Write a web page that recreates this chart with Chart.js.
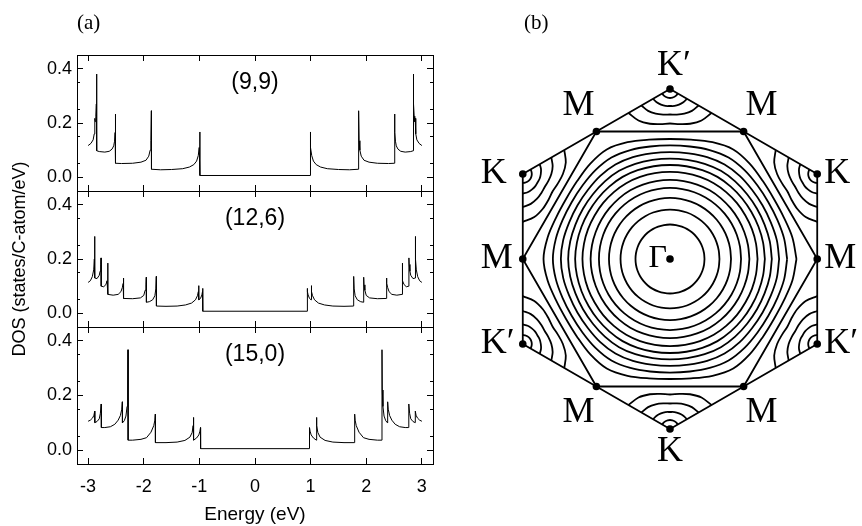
<!DOCTYPE html>
<html>
<head>
<meta charset="utf-8">
<script src="https://cdn.jsdelivr.net/npm/chart.js@4.4.1/dist/chart.umd.min.js"></script>
<style>
  html, body { margin: 0; padding: 0; background: #fff; }
  #wrap { position: relative; width: 862px; height: 526px; overflow: hidden; }
  #wrap canvas { position: absolute; left: 0; top: 0; }
  .tag { position: absolute; font-family: "Liberation Serif", "Times New Roman", serif; font-size: 21px; line-height: 24px; color: #000; }
</style>
</head>
<body>
<div id="wrap">
  <canvas id="dos99" width="862" height="526"></canvas>
  <canvas id="dos126" width="862" height="526"></canvas>
  <canvas id="dos150" width="862" height="526"></canvas>
  <canvas id="bz" width="862" height="526"></canvas>
  <div class="tag" style="left:77px;top:10px">(a)</div>
  <div class="tag" style="left:524px;top:10px">(b)</div>
</div>
<script>
// ---- (a) DOS, negative-energy half (curve is symmetric about E = 0)
const energy99 = [-3.0, -2.95, -2.91, -2.89, -2.88, -2.872, -2.862, -2.852, -2.847, -2.845,
  -2.80, -2.70, -2.62, -2.57, -2.54, -2.525, -2.515, -2.509, -2.507,
  -2.40, -2.20, -2.05, -1.96, -1.91, -1.885, -1.872, -1.863, -1.861,
  -1.70, -1.50, -1.30, -1.18, -1.10, -1.05, -1.02, -1.003, -0.992, -0.990, 0];
const dos99 = [0.117, 0.125, 0.138, 0.16, 0.217, 0.205, 0.225, 0.27, 0.38, 0.098,
  0.095, 0.093, 0.096, 0.104, 0.116, 0.133, 0.165, 0.233, 0.052,
  0.051, 0.052, 0.056, 0.063, 0.078, 0.1, 0.135, 0.245, 0.03,
  0.028, 0.029, 0.032, 0.038, 0.047, 0.06, 0.08, 0.11, 0.167, 0.007, 0.007];

const energy126 = [-3.0, -2.96, -2.925, -2.9, -2.888, -2.882, -2.880,
  -2.84, -2.80, -2.785, -2.772, -2.767, -2.765,
  -2.72, -2.68, -2.66, -2.649, -2.645, -2.643,
  -2.55, -2.46, -2.41, -2.385, -2.37, -2.364, -2.362,
  -2.2, -2.06, -2.0, -1.975, -1.96, -1.954, -1.952,
  -1.9, -1.84, -1.8, -1.783, -1.774, -1.772,
  -1.6, -1.4, -1.25, -1.14, -1.07, -1.035, -1.018, -1.013, -1.008,
  -0.98, -0.955, -0.944, -0.940, -0.938, 0];
const dos126 = [0.114, 0.12, 0.135, 0.16, 0.2, 0.283, 0.13,
  0.128, 0.14, 0.155, 0.18, 0.204, 0.1,
  0.098, 0.106, 0.12, 0.15, 0.185, 0.07,
  0.067, 0.07, 0.08, 0.095, 0.11, 0.13, 0.055,
  0.054, 0.057, 0.066, 0.085, 0.105, 0.133, 0.041,
  0.043, 0.05, 0.065, 0.09, 0.136, 0.027,
  0.026, 0.027, 0.031, 0.038, 0.05, 0.065, 0.08, 0.102, 0.05,
  0.055, 0.068, 0.08, 0.092, 0.008, 0.008];

const energy150 = [-3.0, -2.96, -2.92, -2.895, -2.882, -2.880,
  -2.84, -2.80, -2.78, -2.765, -2.762,
  -2.70, -2.60, -2.52, -2.46, -2.42, -2.395, -2.385, -2.383,
  -2.35, -2.32, -2.30, -2.288, -2.283, -2.281,
  -2.20, -2.05, -1.95, -1.87, -1.82, -1.80, -1.792, -1.790,
  -1.6, -1.4, -1.26, -1.17, -1.13, -1.112, -1.105, -1.103,
  -1.05, -1.01, -0.99, -0.98, -0.978, 0];
const dos150 = [0.106, 0.11, 0.118, 0.128, 0.143, 0.101,
  0.105, 0.115, 0.135, 0.169, 0.083,
  0.083, 0.086, 0.095, 0.11, 0.127, 0.15, 0.177, 0.1,
  0.108, 0.125, 0.16, 0.22, 0.367, 0.037,
  0.037, 0.04, 0.046, 0.066, 0.09, 0.11, 0.132, 0.028,
  0.028, 0.03, 0.036, 0.048, 0.065, 0.09, 0.12, 0.037,
  0.045, 0.056, 0.07, 0.083, 0.006, 0.006];

const energyTicks = [-3, -2, -1, 0, 1, 2, 3];
const dosTicks = [0, 0.2, 0.4];

// ---- (b) Brillouin zone, units of |ΓK|
const kPointAngles = [90, 30, -30, -90, -150, 150];
const kPointLabels = ['K\u2032', 'K', 'K\u2032', 'K', 'K\u2032', 'K'];
const mPointAngles = [120, 60, 0, -60, -120, 180];
const mRadius = 0.866;
// contours around Γ: radius at 0°,10°,20°,30° from the Γ–M direction
const gammaContours = [
  [0.203, 0.203, 0.203, 0.203],
  [0.291, 0.291, 0.291, 0.291],
  [0.359, 0.359, 0.359, 0.359],
  [0.418, 0.418, 0.418, 0.418],
  [0.467, 0.466, 0.465, 0.465],
  [0.515, 0.514, 0.513, 0.512],
  [0.558, 0.556, 0.554, 0.553],
  [0.599, 0.596, 0.592, 0.591],
  [0.642, 0.638, 0.631, 0.629],
  [0.689, 0.682, 0.672, 0.668],
  [0.744, 0.731, 0.713, 0.706]
];
// contours around each K corner: radius at 0°,15°,30°,45°,60° from the K–Γ direction
const kContours = [
  [0.053, 0.053, 0.053, 0.053, 0.053],
  [0.100, 0.103, 0.106, 0.111, 0.115],
  [0.150, 0.156, 0.168, 0.182, 0.194],
  [0.203, 0.214, 0.236, 0.262, 0.282]
];

Chart.defaults.font.family = '"Liberation Sans", Arial, sans-serif';
Chart.defaults.color = '#000';

const deg = Math.PI / 180;
const polar = (r, a, cx = 0, cy = 0) => ({ x: cx + r * Math.cos(a * deg), y: cy + r * Math.sin(a * deg) });

function mirrored(energy, dos) {
  const left = energy.map((e, i) => ({ x: e, y: dos[i] }));
  const right = left.slice(0, -1).reverse().map(p => ({ x: -p.x, y: p.y }));
  return left.concat(right);
}

const tubeLabel = {
  id: 'tubeLabel',
  afterDatasetsDraw(chart, args, opts) {
    const { ctx, scales: { x, y } } = chart;
    ctx.save();
    ctx.font = '23px "Liberation Sans", Arial, sans-serif';
    ctx.fillStyle = '#000';
    ctx.textAlign = 'center';
    ctx.textBaseline = 'middle';
    ctx.fillText(opts.text, x.getPixelForValue(0), y.getPixelForValue(0.35));
    ctx.restore();
  }
};

const tickMarks = len => ({ drawOnChartArea: false, drawTicks: true, tickLength: len, tickColor: '#000', tickWidth: 1 });
const frame = { display: true, color: '#000', width: 1 };
const setWidth = w => s => { s.width = w; };
const setHeight = h => s => { s.height = h; };

function dosChart(id, label, energy, dos, top, bottom, yTitle, xLabels) {
  const yRange = { min: -0.05, max: 0.45 };
  new Chart(document.getElementById(id), {
    type: 'scatter',
    data: {
      datasets: [{
        data: mirrored(energy, dos),
        showLine: true,
        borderColor: '#000',
        borderWidth: 1,
        pointRadius: 0,
        tension: 0
      }]
    },
    options: {
      responsive: false,
      animation: false,
      events: [],
      layout: { padding: { left: 0, top: top, right: 862 - 433, bottom: 526 - bottom - (xLabels ? 62 : 0) } },
      plugins: { legend: { display: false }, tooltip: { enabled: false }, tubeLabel: { text: label } },
      scales: {
        x: {
          type: 'linear', position: 'bottom', min: -3.2, max: 3.2,
          afterBuildTicks: s => { s.ticks = energyTicks.map(v => ({ value: v })); },
          ticks: { display: xLabels, padding: 18, font: { size: 18 } },
          grid: tickMarks(-6), border: frame,
          title: { display: xLabels, text: 'Energy (eV)', font: { size: 19 }, padding: 0 },
          afterFit: setHeight(xLabels ? 62 : 0)
        },
        xTop: {
          type: 'linear', position: 'top', min: -3.2, max: 3.2,
          afterBuildTicks: s => { s.ticks = energyTicks.map(v => ({ value: v })); },
          ticks: { display: false },
          grid: tickMarks(-6), border: frame,
          afterFit: setHeight(0)
        },
        y: {
          type: 'linear', position: 'left', weight: 1, ...yRange,
          afterBuildTicks: s => { s.ticks = dosTicks.map(v => ({ value: v })); },
          ticks: { padding: 11, font: { size: 18 }, callback: v => v.toFixed(1) },
          grid: tickMarks(-6), border: frame,
          title: { display: yTitle, text: 'DOS (states/C-atom/eV)', font: { size: 18 }, padding: { top: 9, bottom: 0 } },
          afterFit: setWidth(77)
        },
        yMinor: {
          type: 'linear', position: 'left', weight: 0, ...yRange,
          ticks: { display: false, stepSize: 0.1, includeBounds: false },
          grid: tickMarks(-3), border: { display: false },
          afterFit: setWidth(0)
        },
        yRight: {
          type: 'linear', position: 'right', ...yRange,
          afterBuildTicks: s => { s.ticks = dosTicks.map(v => ({ value: v })); },
          ticks: { display: false },
          grid: tickMarks(-6), border: frame,
          afterFit: setWidth(0)
        },
        yRightMinor: {
          type: 'linear', position: 'right', ...yRange,
          ticks: { display: false, stepSize: 0.1, includeBounds: false },
          grid: tickMarks(-3), border: { display: false },
          afterFit: setWidth(0)
        }
      }
    },
    plugins: [tubeLabel]
  });
}

dosChart('dos99', '(9,9)', energy99, dos99, 55, 191, false, false);
dosChart('dos126', '(12,6)', energy126, dos126, 191, 327, true, false);
dosChart('dos150', '(15,0)', energy150, dos150, 327, 464, false, true);

// ---- (b)
function gammaLoop(radii) {
  const pts = [];
  for (let a = 0; a <= 360; a += 10) {
    let f = a % 60;
    if (f > 30) f = 60 - f;
    pts.push(polar(radii[f / 10], a));
  }
  return pts;
}

function kArc(radii, corner) {
  const c = polar(1, corner);
  const pts = [];
  for (let d = -60; d <= 60; d += 15) pts.push(polar(radii[Math.abs(d) / 15], corner + 180 + d, c.x, c.y));
  return pts;
}

const line = (data, tension) => ({
  data, showLine: true, borderColor: '#000', borderWidth: 1.8, pointRadius: 0, tension: tension
});

const bzDatasets = [];
gammaContours.forEach(r => bzDatasets.push(line(gammaLoop(r), 0.33)));
kPointAngles.forEach(a => kContours.forEach(r => bzDatasets.push(line(kArc(r, a), 0.33))));
bzDatasets.push(line(kPointAngles.concat(kPointAngles[0]).map(a => polar(1, a)), 0));
bzDatasets.push(line(mPointAngles.concat(mPointAngles[0]).map(a => polar(mRadius, a)), 0));
bzDatasets.push({
  data: kPointAngles.map(a => polar(1, a)).concat(mPointAngles.map(a => polar(mRadius, a)), [{ x: 0, y: 0 }]),
  showLine: false, pointRadius: 3.8, pointBackgroundColor: '#000', pointBorderWidth: 0
});

const zoneLabels = {
  id: 'zoneLabels',
  afterDatasetsDraw(chart) {
    const { ctx, scales: { x, y } } = chart;
    ctx.save();
    ctx.fillStyle = '#000';
    ctx.font = '36px "Liberation Serif", "Times New Roman", serif';
    ctx.textBaseline = 'middle';
    const put = (text, a, r) => {
      const px = x.getPixelForValue(r * Math.cos(a * deg));
      const py = y.getPixelForValue(r * Math.sin(a * deg));
      const c = Math.cos(a * deg), s = Math.sin(a * deg);
      if (Math.abs(c) > 0.8) {
        ctx.textAlign = 'left';
        ctx.fillText(text, c < 0 ? px - 42 : px + 7, py);
      } else if (Math.abs(c) < 0.1) {
        ctx.textAlign = 'left';
        ctx.fillText(text, px - 13, py - 23 * Math.sign(s));
      } else {
        ctx.textAlign = 'center';
        ctx.fillText(text, px + 18 * Math.sign(c), py - 26 * Math.sign(s));
      }
    };
    kPointAngles.forEach((a, i) => put(kPointLabels[i], a, 1));
    mPointAngles.forEach(a => put('M', a, mRadius));
    ctx.font = '32px "Liberation Serif", "Times New Roman", serif';
    ctx.textAlign = 'right';
    ctx.textBaseline = 'alphabetic';
    ctx.fillText('\u0393', x.getPixelForValue(0) - 3, y.getPixelForValue(0) + 8);
    ctx.restore();
  }
};

new Chart(document.getElementById('bz'), {
  type: 'scatter',
  data: { datasets: bzDatasets },
  options: {
    responsive: false,
    animation: false,
    events: [],
    layout: { padding: { left: 500, right: 22, top: 72, bottom: 80 } },
    plugins: { legend: { display: false }, tooltip: { enabled: false } },
    scales: {
      x: { type: 'linear', min: -1, max: 1, display: false },
      y: { type: 'linear', min: -1.1, max: 1.1, display: false }
    }
  },
  plugins: [zoneLabels]
});
</script>
</body>
</html>
